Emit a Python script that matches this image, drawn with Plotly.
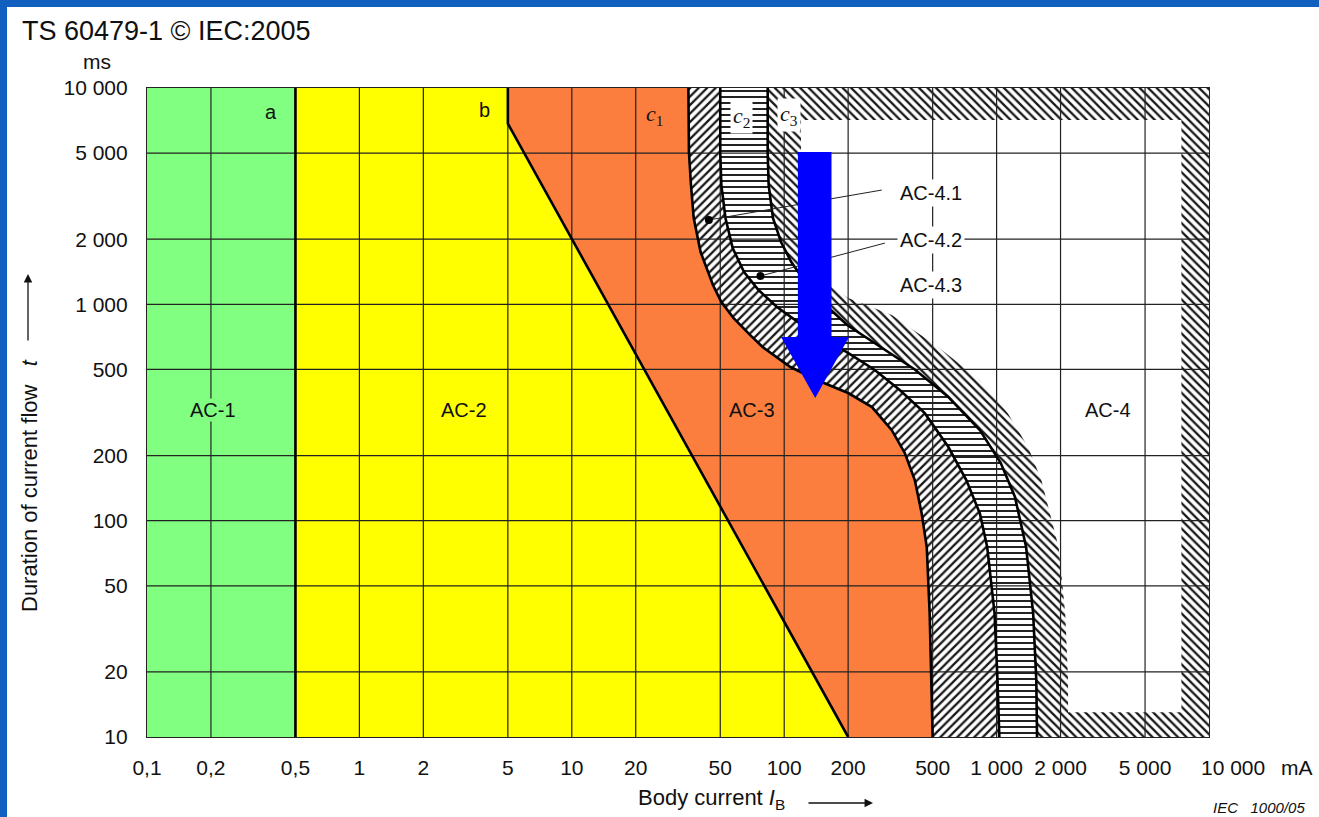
import math
import plotly.graph_objects as go

# ---------------- data (body current in mA, duration in ms) ----------------
x_ticks = [0.1, 0.2, 0.5, 1, 2, 5, 10, 20, 50, 100, 200, 500, 1000, 2000, 5000]
x_ticktext = ["0,1", "0,2", "0,5", "1", "2", "5", "10", "20", "50", "100", "200",
              "500", "1 000", "2 000", "5 000"]
y_ticks = [10, 20, 50, 100, 200, 500, 1000, 2000, 5000, 10000]
y_ticktext = ["10", "20", "50", "100", "200", "500", "1 000", "2 000", "5 000", "10 000"]

grid_x = [0.2, 0.5, 1, 2, 5, 10, 20, 50, 100, 200, 500, 1000, 2000, 5000]
grid_y = [20, 50, 100, 200, 500, 1000, 2000, 5000]

I_min, I_max = 0.1, 10000
t_min, t_max = 10, 10000

# curve a
a_I = [0.5, 0.5]
a_t = [10, 10000]
# curve b
b_I = [5, 5, 200]
b_t = [10000, 6850, 10]
# curve c1
c1_I = [35.4, 35.6, 36.4, 37.5, 40.4, 46.2, 50.6, 57.8, 69.2, 79.1, 107, 146,
        200, 259, 321, 370, 412, 444, 469, 484, 500]
c1_t = [10000, 5060, 3560, 2506, 1745, 1228, 1025, 864, 721, 635, 513, 442,
        389, 335, 262, 205, 154, 108, 75.5, 37.4, 10]
# curve c2
c2_I = [50, 50, 50.6, 52.9, 57.2, 64.7, 75.7, 92.5, 118, 155, 204, 267, 350, 459,
        593, 720, 834, 903, 978, 1010, 1030]
c2_t = [10000, 5000, 3560, 2506, 1820, 1410, 1164, 972, 819, 698, 589, 497, 402, 314,
        219, 154, 108, 75.5, 37.4, 18.3, 10]
# curve c3
c3_I = [83.6, 83.6, 84.5, 88.5, 96.6, 108, 124, 151, 198, 267, 412, 593, 834, 1045,
        1219, 1377, 1486, 1538, 1550]
c3_t = [10000, 5000, 3560, 2506, 1941, 1569, 1294, 1025, 802, 662, 500, 373, 262, 185,
        129, 75.5, 37.4, 18.3, 10]
# inner (unhatched) part of zone AC-4
inner_I = [120, 120, 138, 169, 200, 321, 530, 834, 1129, 1406, 1624, 1958, 2104, 2170,
           2170, 7414, 7414]
inner_t = [7113, 2206, 1521, 1189, 1069, 892, 635, 447, 314, 219, 154, 75.5, 37.4, 18.3,
           13.0, 13.0, 7113]

# leader lines (dot -> label)
lead1_I = [44.2, 288]
lead1_t = [2455, 3375]
lead2_I = [77.3, 298]
lead2_t = [1352, 1919]

# blue arrow
arrow_I = [116, 167, 167, 202, 140, 96.6, 116, 116]
arrow_t = [5060, 5060, 706, 706, 369, 706, 706, 5060]

# labels
zone_labels = ["AC-1", "AC-2", "AC-3", "AC-4"]
zone_I = [0.205, 3.1, 70.6, 3330]
zone_t = [324, 324, 324, 324]
sub_labels = ["AC-4.1", "AC-4.2", "AC-4.3"]
sub_I = [490, 490, 490]
sub_t = [3270, 1983, 1228]
curve_labels = ["a", "b", "<i>c</i><sub>1</sub>", "<i>c</i><sub>2</sub>", "<i>c</i><sub>3</sub>"]
curve_lab_I = [0.383, 3.87, 24.4, 63.2, 105]
curve_lab_t = [7740, 7900, 7500, 7350, 7500]

# ---------------- colours ----------------
GREEN = "#80ff80"
YELLOW = "#ffff00"
ORANGE = "#fb7e3f"
SLIDE = "#1160bf"
FONT = "Liberation Sans, Arial, sans-serif"
SERIF = "Liberation Serif, serif"

W, H = 1319, 817
ML, MR, MT, MB = 147, 110, 88, 80
PW, PH = W - ML - MR, H - MT - MB


def px_x(p):
    return (p - ML) / PW


def px_y(p):
    return (H - MB - p) / PH


fig = go.Figure()


def region(xs, ys, color=None, pattern=None):
    kw = dict(x=xs, y=ys, mode="lines", fill="toself", line=dict(width=0),
              hoverinfo="skip", showlegend=False)
    if pattern:
        kw["fillcolor"] = "white"
        kw["fillpattern"] = pattern
    else:
        kw["fillcolor"] = color
    fig.add_trace(go.Scatter(**kw))


HATCH = dict(fgcolor="black", bgcolor="white", fgopacity=0.9, size=6, solidity=0.38)

# zones
region([I_min, a_I[0], a_I[1], I_min], [t_min, t_min, t_max, t_max], GREEN)
region(a_I + b_I, a_t + b_t, YELLOW)
region(b_I + c1_I[::-1], b_t + c1_t[::-1], ORANGE)
region(c1_I + c2_I[::-1], c1_t + c2_t[::-1], pattern=dict(shape="/", **HATCH))
region(c2_I + c3_I[::-1], c2_t + c3_t[::-1],
       pattern=dict(shape="-", fgcolor="black", bgcolor="white", fgopacity=0.9,
                    size=6, solidity=0.32))
region(c3_I + [I_max, I_max], c3_t + [t_min, t_max], pattern=dict(shape="\\", **HATCH))
region(inner_I, inner_t, "white")

# grid lines (drawn above the zones)
gx, gy = [], []
for v in grid_x:
    gx += [v, v, None]
    gy += [t_min, t_max, None]
for v in grid_y:
    gx += [I_min, I_max, None]
    gy += [v, v, None]
fig.add_trace(go.Scatter(x=gx, y=gy, mode="lines", line=dict(color="#222", width=1.2),
                         hoverinfo="skip", showlegend=False))

# boundary curves
for xs, ys in [(a_I, a_t), (b_I, b_t), (c1_I, c1_t), (c2_I, c2_t), (c3_I, c3_t)]:
    fig.add_trace(go.Scatter(x=xs, y=ys, mode="lines", line=dict(color="black", width=2.6),
                             hoverinfo="skip", showlegend=False))

# leader lines with dots
for xs, ys in [(lead1_I, lead1_t), (lead2_I, lead2_t)]:
    fig.add_trace(go.Scatter(x=xs, y=ys, mode="lines", line=dict(color="#222", width=1),
                             hoverinfo="skip", showlegend=False))
    fig.add_trace(go.Scatter(x=[xs[0]], y=[ys[0]], mode="markers",
                             marker=dict(color="black", size=8),
                             hoverinfo="skip", showlegend=False))

# blue arrow
fig.add_trace(go.Scatter(x=arrow_I, y=arrow_t, mode="lines", fill="toself",
                         fillcolor="#0000ff", line=dict(width=0, color="#0000ff"),
                         hoverinfo="skip", showlegend=False))

ann = []
for txt, xi, ti in zip(zone_labels, zone_I, zone_t):
    ann.append(dict(x=math.log10(xi), y=math.log10(ti), text=txt, showarrow=False,
                    font=dict(size=20, color="#111", family=FONT),
                    bgcolor=GREEN if txt == "AC-1" else None, borderpad=0))
for txt, xi, ti in zip(sub_labels, sub_I, sub_t):
    ann.append(dict(x=math.log10(xi), y=math.log10(ti), text=txt, showarrow=False,
                    font=dict(size=20, color="#111", family=FONT), bgcolor="white",
                    borderpad=2))
for k, (txt, xi, ti) in enumerate(zip(curve_labels, curve_lab_I, curve_lab_t)):
    a = dict(x=math.log10(xi), y=math.log10(ti), text=txt, showarrow=False,
             font=dict(size=20 if k < 2 else 22, color="#111",
                       family=FONT if k < 2 else SERIF))
    if k >= 3:
        a["bgcolor"] = "white"
        a["borderpad"] = 2
    ann.append(a)


def paper_text(px, py, text, size, xanchor="center", **kw):
    d = dict(x=px_x(px), y=px_y(py), xref="paper", yref="paper", text=text,
             showarrow=False, xanchor=xanchor, yanchor="middle",
             font=dict(size=size, color="#111", family=FONT))
    d.update(kw)
    return d


# last x tick label and unit
ann.append(dict(x=math.log10(I_max), y=px_y(767), xref="x", yref="paper", xshift=24,
                xanchor="center", yanchor="middle",
                text="10 000", showarrow=False, font=dict(size=21, color="#111", family=FONT)))
ann.append(paper_text(1297, 767, "mA", 21))
ann.append(paper_text(97, 62, "ms", 21))
# header
ann.append(paper_text(20, 31, "TS 60479-1 © IEC:2005", 27, xanchor="left"))
# axis titles
ann.append(paper_text(636, 799, "Body current <i>I</i><sub>B</sub>", 22, xanchor="left"))
ann.append(dict(x=px_x(873), y=px_y(803), xref="paper", yref="paper", ax=-66, ay=0,
                text="", showarrow=True, arrowhead=2, arrowsize=1.3, arrowwidth=1.3,
                arrowcolor="#111"))
ann.append(paper_text(29, 486, "Duration of current flow   <i>t</i>", 22, textangle=-90))
ann.append(dict(x=px_x(28), y=px_y(274), xref="paper", yref="paper", ax=0, ay=68,
                text="", showarrow=True, arrowhead=2, arrowsize=1.3, arrowwidth=1.3,
                arrowcolor="#111"))
ann.append(paper_text(1259, 808, "<i>IEC   1000/05</i>", 15))

fig.update_layout(
    width=W, height=H, autosize=False,
    margin=dict(l=ML, r=MR, t=MT, b=MB),
    paper_bgcolor=SLIDE, plot_bgcolor="white",
    showlegend=False,
    annotations=ann,
    shapes=[dict(type="rect", xref="paper", yref="paper", x0=px_x(7), x1=px_x(W + 20),
                 y0=px_y(H + 20), y1=px_y(7), fillcolor="white", line=dict(width=0),
                 layer="below")],
    xaxis=dict(type="log", range=[math.log10(I_min), math.log10(I_max)],
               tickvals=x_ticks, ticktext=x_ticktext, showgrid=False, zeroline=False,
               showline=True, mirror=True, linecolor="#222", linewidth=1.2,
               ticks="", ticklabelstandoff=12,
               tickfont=dict(size=21, color="#111", family=FONT)),
    yaxis=dict(type="log", range=[math.log10(t_min), math.log10(t_max)],
               tickvals=y_ticks, ticktext=y_ticktext, showgrid=False, zeroline=False,
               showline=True, mirror=True, linecolor="#222", linewidth=1.2,
               ticks="", ticklabelstandoff=14,
               tickfont=dict(size=21, color="#111", family=FONT)),
)

fig.write_html("out.html",
               config={"displayModeBar": False},
               post_script="document.body.style.margin='0';"
                           "document.body.style.padding='0';"
                           "document.body.style.overflow='hidden';")
